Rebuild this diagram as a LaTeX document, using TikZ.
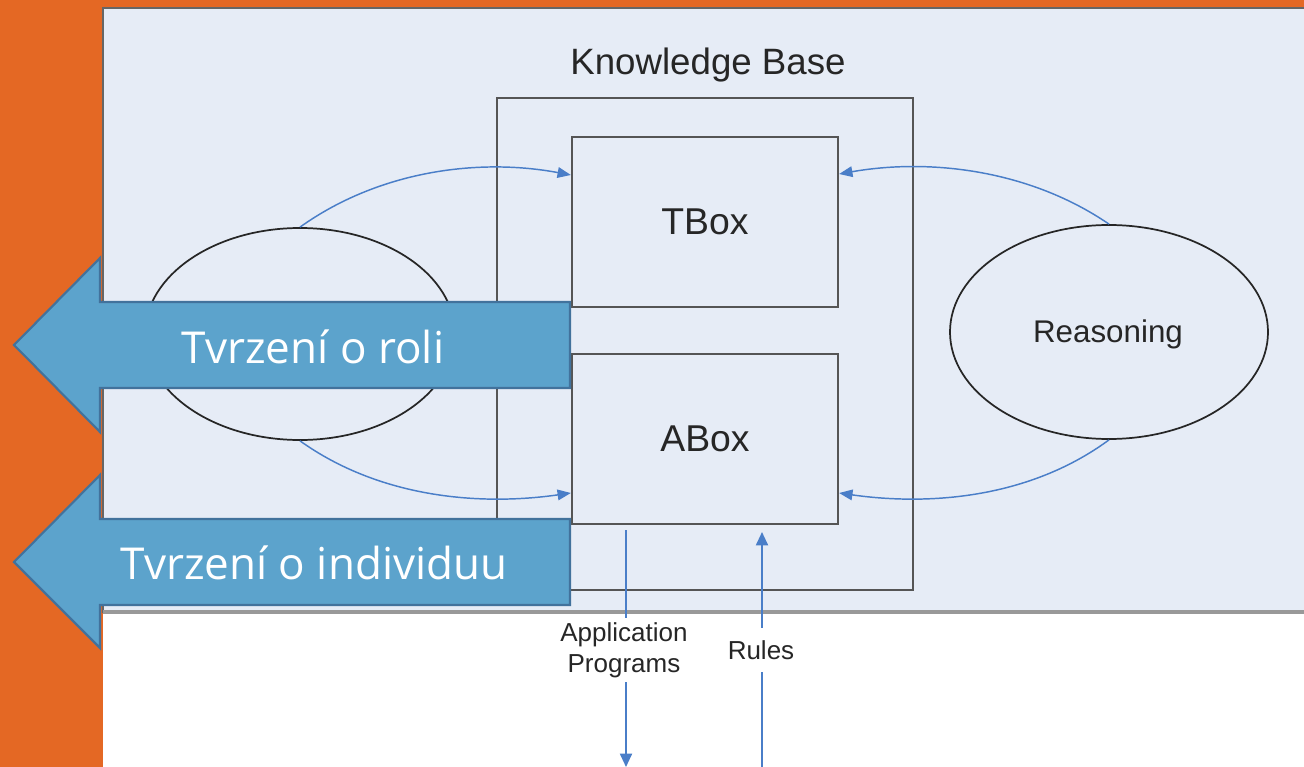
\documentclass[tikz,border=0pt]{standalone}
\usepackage{fontspec}
\setmainfont{Liberation Sans}
\newfontfamily\segoe{Open Sans}
\usetikzlibrary{arrows.meta,calc,shapes.geometric}
\definecolor{orangebg}{RGB}{228,104,36}
\definecolor{panelbg}{RGB}{230,236,246}
\definecolor{blockfill}{RGB}{92,163,204}
\definecolor{blockline}{RGB}{66,114,156}
\definecolor{curveblue}{RGB}{74,126,200}
\definecolor{boxgray}{RGB}{85,85,85}
\tikzset{
  boxstyle/.style={draw=boxgray, line width=1.7pt, minimum width=266*0.75pt, minimum height=170*0.75pt, inner sep=0pt, font=\fontsize{28}{32}\selectfont, text=black!85},
  ellstyle/.style={ellipse, draw=black!85, line width=1.3pt, inner sep=0pt},
  flow/.style={draw=curveblue, line width=1.1pt, -{Triangle[length=10pt,width=8pt]}},
  vflow/.style={draw=curveblue, line width=1.4pt},
  blockarrow/.style={fill=blockfill, draw=blockline, line width=1.6pt, line join=miter},
  blocktext/.style={text=white, font=\segoe\fontsize{33}{38}\selectfont, inner sep=0pt},
  smalllabel/.style={font=\fontsize{19.5}{23.5}\selectfont, align=center, text=black!85}
}
\begin{document}
\begin{tikzpicture}[x=0.75pt,y=-0.75pt]
\useasboundingbox (0,0) rectangle (1304,767);
% backgrounds
\fill[orangebg] (0,0) rectangle (1304,767);
\fill[white] (103,612) rectangle (1304,767);
\fill[panelbg] (103,8) rectangle (1304,612);
\draw[boxgray!90, line width=2pt] (1304,8) -- (103,8) -- (103,612) -- (1304,612);
\draw[gray!80, line width=2.5pt] (103,612) -- (1304,612);

% knowledge base
\node[font=\fontsize{27.5}{32}\selectfont, text=black!85] (kbtitle) at (708,65) {Knowledge Base};
\node[draw=boxgray, line width=1.7pt, minimum width=416*0.75pt, minimum height=492*0.75pt, inner sep=0pt] (kb) at (705,344) {};
\node[boxstyle] (tbox) at (705,222) {TBox};
\node[boxstyle] (abox) at (705,439) {ABox};

% ellipses
\node[ellstyle, minimum width=310*0.75pt, minimum height=212*0.75pt] (le) at (300,334) {};
\node[ellstyle, minimum width=318*0.75pt, minimum height=214*0.75pt] (re) at (1109,332) {};
\node[font=\fontsize{23.5}{28}\selectfont, text=black!85] (reason) at (1108,334) {Reasoning};

% curves
\coordinate (tbl) at ($(tbox.west)+(0,-47)$);
\coordinate (tbr) at ($(tbox.east)+(0,-48)$);
\coordinate (abl) at ($(abox.west)+(0,54)$);
\coordinate (abr) at ($(abox.east)+(0,54)$);
\draw[flow] (le.north) .. controls (380,170) and (480,158) .. (tbl);
\draw[flow] (le.south) .. controls (380,498) and (480,506) .. (abl);
\draw[flow] (re.north) .. controls (1030,170) and (930,158) .. (tbr);
\draw[flow] (re.south) .. controls (1030,498) and (930,506) .. (abr);

% application programs / rules
\node[smalllabel] (apptext) at (624,650) {Application\\Programs};
\node[smalllabel] (rules) at (761,650) {Rules};
\coordinate (apstart) at (626,530);
\coordinate (apend) at (626,767);
\coordinate (rulestip) at (762,532);
\coordinate (rulesstart) at (762,767);
\draw[vflow] (apstart) -- (apstart |- apptext.north);
\draw[vflow, -{Triangle[length=10pt,width=9pt]}] (apend |- apptext.south) -- (apend);
\draw[vflow, -{Triangle[length=10pt,width=9pt]}] ($(rules.north)+(1,-8)$) -- (rulestip);
\draw[vflow] (rulesstart) -- ($(rules.south)+(1,8)$);

% block arrows
\draw[blockarrow] (570,302) -- (100,302) -- (100,258) -- (14,345) -- (100,432) -- (100,388) -- (570,388) -- cycle;
\node[blocktext] (roli) at (313,347) {Tvrzení o roli};
\draw[blockarrow] (570,519) -- (100,519) -- (100,475) -- (14,562) -- (100,648) -- (100,605) -- (570,605) -- cycle;
\node[blocktext] (indiv) at (314,563) {Tvrzení o individuu};
\end{tikzpicture}
\end{document}
